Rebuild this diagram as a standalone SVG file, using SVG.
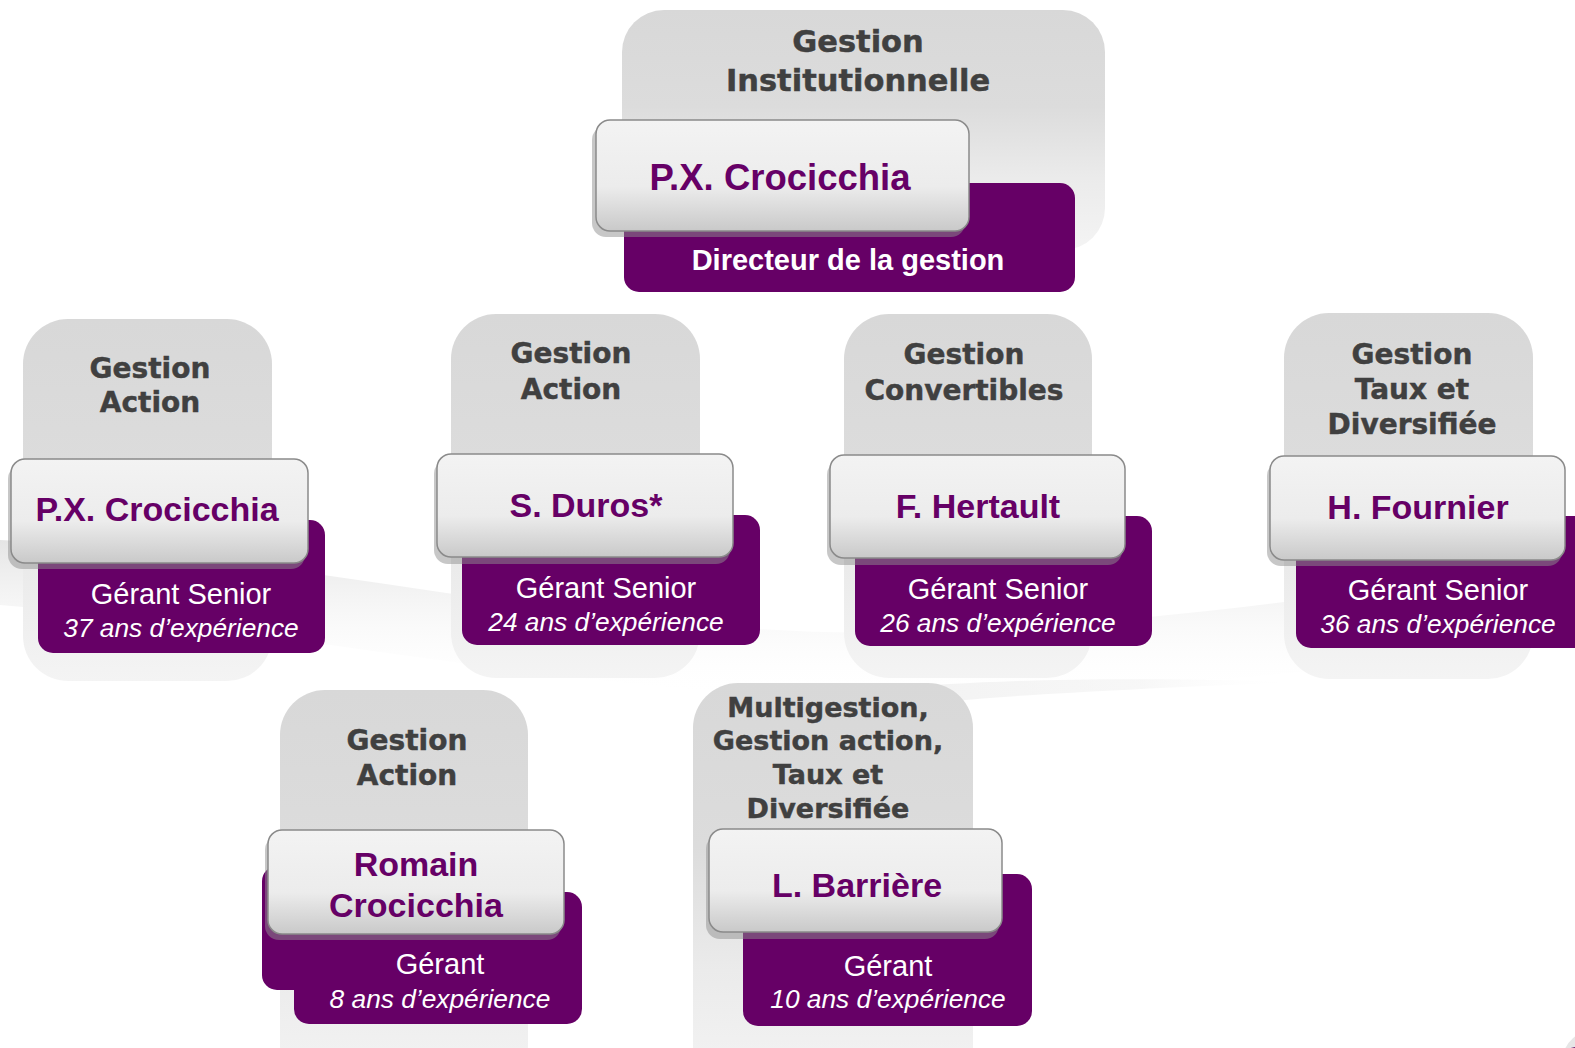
<svg xmlns="http://www.w3.org/2000/svg" width="1575" height="1048" viewBox="0 0 1575 1048">
<defs>
  <linearGradient id="gGrey" x1="0" y1="0" x2="0" y2="1">
    <stop offset="0" stop-color="#d8d8d8"/>
    <stop offset="0.4" stop-color="#dcdcdc"/>
    <stop offset="0.7" stop-color="#ebebeb"/>
    <stop offset="1" stop-color="#f4f4f4"/>
  </linearGradient>
  <linearGradient id="gCard" x1="0" y1="0" x2="0" y2="1">
    <stop offset="0" stop-color="#f3f3f3"/>
    <stop offset="0.6" stop-color="#ececec"/>
    <stop offset="1" stop-color="#c9c9c9"/>
  </linearGradient>
  <linearGradient id="gSwoosh" x1="0" y1="0" x2="0" y2="1">
    <stop offset="0" stop-color="#e2e2e2" stop-opacity="0.9"/>
    <stop offset="1" stop-color="#ffffff" stop-opacity="0"/>
  </linearGradient>
  <linearGradient id="gSwoosh2" x1="0" y1="0" x2="1" y2="0">
    <stop offset="0" stop-color="#ececec" stop-opacity="0.8"/>
    <stop offset="0.7" stop-color="#f2f2f2" stop-opacity="0.6"/>
    <stop offset="1" stop-color="#ffffff" stop-opacity="0"/>
  </linearGradient>
  <style>
    .grey { fill: url(#gGrey); }
    .purple { fill: #660066; }
    .shadow { fill: #8f8f8f; fill-opacity: 0.5; }
    .card { fill: url(#gCard); stroke: #8a8a8a; stroke-width: 1.5; }
    .head { font-family: "DejaVu Sans", Verdana, sans-serif; font-weight: bold; fill: #404040; stroke: #404040; stroke-width: 0.45; text-anchor: middle; }
    .name { font-family: "Liberation Sans", Arial, sans-serif; font-weight: bold; fill: #660066; text-anchor: middle; font-size: 34px; }
    .big { font-size: 36.5px; }
    .role { font-family: "Liberation Sans", Arial, sans-serif; fill: #ffffff; text-anchor: middle; font-size: 29px; }
    .exp { font-family: "Liberation Sans", Arial, sans-serif; font-style: italic; fill: #ffffff; text-anchor: middle; font-size: 26.3px; }
  </style>
</defs>
<rect width="1575" height="1048" fill="#ffffff"/>
<g id="background">
  <path d="M0,540 C300,555 620,640 900,632 C1150,626 1400,590 1575,555 L1575,640 C1400,660 1150,695 900,698 C600,700 300,630 0,605 Z" fill="url(#gSwoosh)"/>
  <path d="M780,700 C900,684 1050,674 1300,682 C1050,692 900,700 780,725 Z" fill="url(#gSwoosh2)"/>
  <ellipse cx="1600" cy="1062" rx="38" ry="34" fill="#e6e6e6"/>
  <ellipse cx="1605" cy="1068" rx="62" ry="24" fill="#6e1a6e"/>
</g>
<g id="connectors"/>

<g id="node-top">
  <rect class="grey" x="622" y="10" width="483" height="240" rx="42"/>
  <rect class="purple" x="624" y="183" width="451" height="109" rx="15"/>
  <rect class="shadow" x="592" y="126" width="373" height="111" rx="14"/>
  <rect class="card" x="596" y="120" width="373" height="111" rx="14"/>
  <text class="head" x="858" y="52" font-size="30.5">Gestion</text>
  <text class="head" x="858" y="91" font-size="30.5">Institutionnelle</text>
  <text class="name big" x="780" y="190">P.X. Crocicchia</text>
  <text class="role" x="848" y="270" font-weight="bold">Directeur de la gestion</text>
</g>

<g id="node-a">
  <rect class="grey" x="23" y="319" width="249" height="362" rx="45"/>
  <rect class="purple" x="38" y="520" width="287" height="133" rx="15"/>
  <rect class="shadow" x="8" y="465" width="297" height="104" rx="14"/>
  <rect class="card" x="11" y="459" width="297" height="104" rx="14"/>
  <text class="head" x="150" y="378" font-size="28">Gestion</text>
  <text class="head" x="150" y="412" font-size="28">Action</text>
  <text class="name" x="157" y="521">P.X. Crocicchia</text>
  <text class="role" x="181" y="604">Gérant Senior</text>
  <text class="exp" x="181" y="637">37 ans d’expérience</text>
</g>

<g id="node-b">
  <rect class="grey" x="451" y="314" width="249" height="364" rx="45"/>
  <rect class="purple" x="462" y="515" width="298" height="130" rx="15"/>
  <rect class="shadow" x="434" y="460" width="296" height="104" rx="14"/>
  <rect class="card" x="437" y="454" width="296" height="103" rx="14"/>
  <text class="head" x="571" y="363" font-size="28">Gestion</text>
  <text class="head" x="571" y="399" font-size="28">Action</text>
  <text class="name" x="586" y="517">S. Duros*</text>
  <text class="role" x="606" y="598">Gérant Senior</text>
  <text class="exp" x="606" y="631">24 ans d’expérience</text>
</g>

<g id="node-c">
  <rect class="grey" x="844" y="314" width="248" height="364" rx="45"/>
  <rect class="purple" x="855" y="516" width="297" height="130" rx="15"/>
  <rect class="shadow" x="827" y="461" width="295" height="104" rx="14"/>
  <rect class="card" x="830" y="455" width="295" height="103" rx="14"/>
  <text class="head" x="964" y="364" font-size="28">Gestion</text>
  <text class="head" x="964" y="400" font-size="28">Convertibles</text>
  <text class="name" x="978" y="518">F. Hertault</text>
  <text class="role" x="998" y="599">Gérant Senior</text>
  <text class="exp" x="998" y="632">26 ans d’expérience</text>
</g>

<g id="node-d">
  <rect class="grey" x="1284" y="313" width="249" height="366" rx="45"/>
  <rect class="purple" x="1296" y="516" width="310" height="132" rx="15"/>
  <rect class="shadow" x="1267" y="462" width="295" height="104" rx="14"/>
  <rect class="card" x="1270" y="456" width="295" height="104" rx="14"/>
  <text class="head" x="1412" y="364" font-size="28">Gestion</text>
  <text class="head" x="1412" y="399" font-size="28">Taux et</text>
  <text class="head" x="1412" y="434" font-size="28">Diversifiée</text>
  <text class="name" x="1418" y="519">H. Fournier</text>
  <text class="role" x="1438" y="600">Gérant Senior</text>
  <text class="exp" x="1438" y="633">36 ans d’expérience</text>
</g>

<g id="node-e">
  <rect class="grey" x="280" y="690" width="248" height="400" rx="45"/>
  <rect class="purple" x="262" y="866" width="300" height="124" rx="15"/>
  <rect class="purple" x="294" y="892" width="288" height="132" rx="15"/>
  <rect class="shadow" x="265" y="836" width="296" height="104" rx="14"/>
  <rect class="card" x="268" y="830" width="296" height="104" rx="14"/>
  <text class="head" x="407" y="750" font-size="28">Gestion</text>
  <text class="head" x="407" y="785" font-size="28">Action</text>
  <text class="name" x="416" y="876">Romain</text>
  <text class="name" x="416" y="917">Crocicchia</text>
  <text class="role" x="440" y="974">Gérant</text>
  <text class="exp" x="440" y="1008">8 ans d’expérience</text>
</g>

<g id="node-f">
  <rect class="grey" x="693" y="683" width="280" height="410" rx="45"/>
  <rect class="purple" x="743" y="874" width="289" height="152" rx="15"/>
  <rect class="shadow" x="706" y="835" width="293" height="104" rx="14"/>
  <rect class="card" x="709" y="829" width="293" height="103" rx="14"/>
  <text class="head" x="828" y="717" font-size="27">Multigestion,</text>
  <text class="head" x="828" y="750" font-size="27">Gestion action,</text>
  <text class="head" x="828" y="784" font-size="27">Taux et</text>
  <text class="head" x="828" y="818" font-size="27">Diversifiée</text>
  <text class="name" x="857" y="897">L. Barrière</text>
  <text class="role" x="888" y="976">Gérant</text>
  <text class="exp" x="888" y="1008">10 ans d’expérience</text>
</g>
</svg>
